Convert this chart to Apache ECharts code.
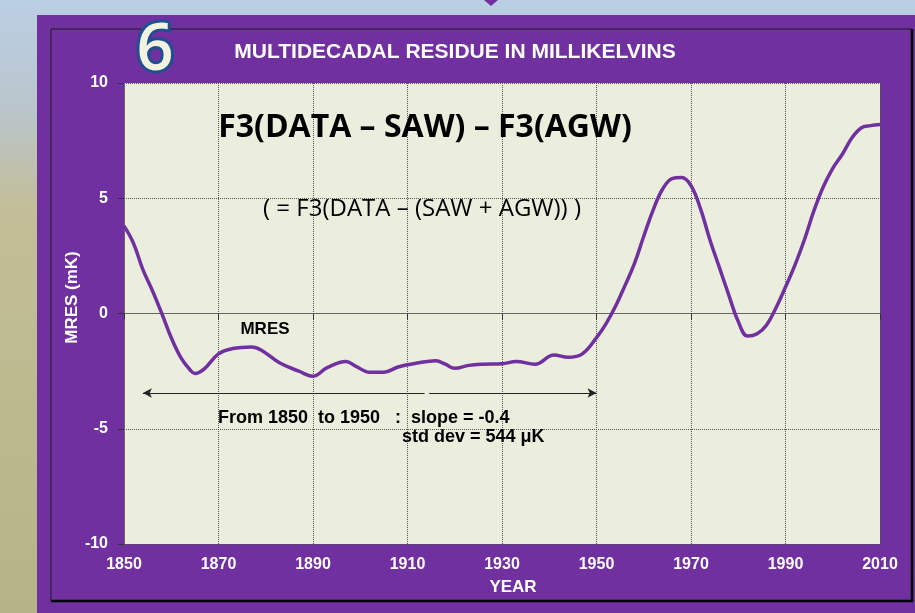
<!DOCTYPE html>
<html>
<head>
<meta charset="utf-8">
<title>Multidecadal residue</title>
<script src="https://cdn.jsdelivr.net/npm/echarts@6/dist/echarts.min.js"></script>
<style>
  html, body { margin: 0; padding: 0; }
  #main { width: 915px; height: 613px; }
</style>
</head>
<body>
<div id="main"></div>
<script>
// years and MRES values (mK)
var years = [1850, 1852, 1854, 1856, 1858, 1860, 1862, 1864, 1865, 1867,
    1870, 1873, 1877, 1879, 1883, 1887, 1890, 1893, 1897, 1899,
    1902, 1905, 1908, 1912, 1916, 1918, 1920, 1923, 1926, 1930,
    1933, 1937, 1941, 1944, 1947, 1950, 1952, 1954, 1956, 1958,
    1960, 1962, 1964, 1966, 1968, 1970, 1972, 1974, 1976, 1978,
    1980, 1982, 1984, 1986, 1988, 1990, 1992, 1994, 1996, 1998,
    2000, 2002, 2004, 2006, 2008, 2010];
var mres = [3.8, 3.05, 1.9, 1.0, 0.0, -1.05, -1.9, -2.45, -2.6, -2.4,
    -1.75, -1.52, -1.45, -1.58, -2.15, -2.5, -2.72, -2.35, -2.08, -2.28,
    -2.55, -2.55, -2.32, -2.15, -2.05, -2.2, -2.38, -2.25, -2.2, -2.18,
    -2.08, -2.2, -1.8, -1.9, -1.75, -1.05, -0.45, 0.3, 1.2, 2.15,
    3.35, 4.5, 5.4, 5.85, 5.9, 5.55, 4.55, 3.2, 2.0, 0.8,
    -0.35, -0.98, -0.88, -0.5, 0.25, 1.15, 2.1, 3.2, 4.45, 5.5,
    6.3, 6.9, 7.6, 8.05, 8.15, 8.2];

// fit span shown by the double arrow
var spanFrom = 1854, spanGapA = 1913.6, spanGapB = 1914.6, spanTo = 1950, spanLevel = -3.45;

var purple = '#7030A0';
var bold = 'Liberation Sans, Arial, sans-serif';

var chart = echarts.init(document.getElementById('main'));

var points = [];
for (var i = 0; i < years.length; i++) {
    points.push([years[i], mres[i]]);
}

var option = {
    animation: false,
    backgroundColor: 'transparent',
    graphic: [
        { type: 'rect', z: -100, shape: {x: 0, y: 0, width: 915, height: 613},
          style: {fill: new echarts.graphic.LinearGradient(0, 0, 0, 1, [
              {offset: 0, color: '#BBCFE4'},
              {offset: 0.18, color: '#B9C5CB'},
              {offset: 0.34, color: '#C3BE97'},
              {offset: 1, color: '#B6B486'}
          ])} },
        { type: 'polygon', z: -99, shape: {points: [[484, 0], [498, 0], [491, 6]]},
          style: {fill: purple} },
        { type: 'rect', z: -99, shape: {x: 37, y: 15, width: 878, height: 598},
          style: {fill: purple} },
        { type: 'rect', z: -98, shape: {x: 51, y: 29, width: 861, height: 572},
          style: {fill: 'none', stroke: '#1a1a1a', lineWidth: 1} },
        { type: 'line', z: -98, shape: {x1: 912, y1: 29, x2: 912, y2: 602},
          style: {stroke: '#000', lineWidth: 2.5} },
        { type: 'line', z: -98, shape: {x1: 51, y1: 601, x2: 913, y2: 601},
          style: {stroke: '#000', lineWidth: 2.5} },
        { type: 'text', z: 10, x: 155, y: 51,
          style: {text: '6', font: '600 65px "Open Sans"', fill: '#F3F1E2',
                  stroke: '#1F4F8F', lineWidth: 6, strokeFirst: true,
                  textAlign: 'center', textVerticalAlign: 'middle'} },
        { type: 'text', z: 10, x: 455, y: 52,
          style: {text: 'MULTIDECADAL RESIDUE IN MILLIKELVINS', font: 'bold 21px ' + bold,
                  fill: '#fff', textAlign: 'center', textVerticalAlign: 'middle'} },
        { type: 'text', z: 10, x: 425, y: 128,
          style: {text: 'F3(DATA \u2013 SAW) \u2013 F3(AGW)', font: 'bold 32px "Open Sans"',
                  fill: '#000', textAlign: 'center', textVerticalAlign: 'middle'} },
        { type: 'text', z: 10, x: 422, y: 209,
          style: {text: '( = F3(DATA \u2013 (SAW + AGW)) )', font: '24px "Open Sans"',
                  fill: '#000', textAlign: 'center', textVerticalAlign: 'middle'} },
        { type: 'text', z: 10, x: 265, y: 329,
          style: {text: 'MRES', font: 'bold 17px ' + bold,
                  fill: '#000', textAlign: 'center', textVerticalAlign: 'middle'} },
        { type: 'text', z: 10, x: 218, y: 418,
          style: {text: 'From 1850  to 1950   :  slope = -0.4', font: 'bold 18px ' + bold,
                  fill: '#000', textAlign: 'left', textVerticalAlign: 'middle'} },
        { type: 'text', z: 10, x: 402, y: 437,
          style: {text: 'std dev = 544 \u03bcK', font: 'bold 18px ' + bold,
                  fill: '#000', textAlign: 'left', textVerticalAlign: 'middle'} }
    ],
    grid: {
        left: 124, right: 35, top: 83, bottom: 69,
        show: true, backgroundColor: '#EBEEDD', borderWidth: 0
    },
    xAxis: {
        type: 'value', min: 1850, max: 2010, interval: 20,
        name: 'YEAR', nameLocation: 'middle', nameGap: 35, nameMoveOverlap: false,
        nameTextStyle: {color: '#fff', fontWeight: 'bold', fontSize: 17, fontFamily: bold, padding: [0, 0, 0, 22]},
        axisLine: {show: true, lineStyle: {color: '#666', width: 1}},
        axisTick: {show: true, length: 6, lineStyle: {color: '#333'}},
        axisLabel: {color: '#fff', fontWeight: 'bold', fontSize: 16, fontFamily: bold, margin: 13,
                    formatter: function (v) { return String(v); }},
        splitLine: {show: true, lineStyle: {color: '#555', type: 'dotted', width: 1}}
    },
    yAxis: {
        type: 'value', min: -10, max: 10, interval: 5,
        name: 'MRES (mK)', nameLocation: 'middle', nameGap: 43, nameMoveOverlap: false,
        nameTextStyle: {color: '#fff', fontWeight: 'bold', fontSize: 17, fontFamily: bold, padding: [0, 0, 0, 32]},
        axisLine: {show: true, lineStyle: {color: '#666', width: 1}},
        axisTick: {show: true, length: 6, lineStyle: {color: '#333'}},
        axisLabel: {color: '#fff', fontWeight: 'bold', fontSize: 16, fontFamily: bold, margin: 16},
        splitLine: {show: true, lineStyle: {color: '#555', type: 'dotted', width: 1}}
    },
    series: [{
        name: 'MRES',
        type: 'line',
        data: points,
        smooth: 0.4,
        showSymbol: false,
        lineStyle: {color: purple, width: 3.5},
        markLine: {
            silent: true,
            symbolSize: [7, 9],
            lineStyle: {color: '#222', width: 1, type: 'solid'},
            label: {show: false},
            data: [
                [{coord: [spanFrom, spanLevel], symbol: 'arrow'}, {coord: [spanGapA, spanLevel], symbol: 'none'}],
                [{coord: [spanGapB, spanLevel], symbol: 'none'}, {coord: [spanTo, spanLevel], symbol: 'arrow'}]
            ]
        }
    }]
};
chart.setOption(option);
</script>
</body>
</html>
